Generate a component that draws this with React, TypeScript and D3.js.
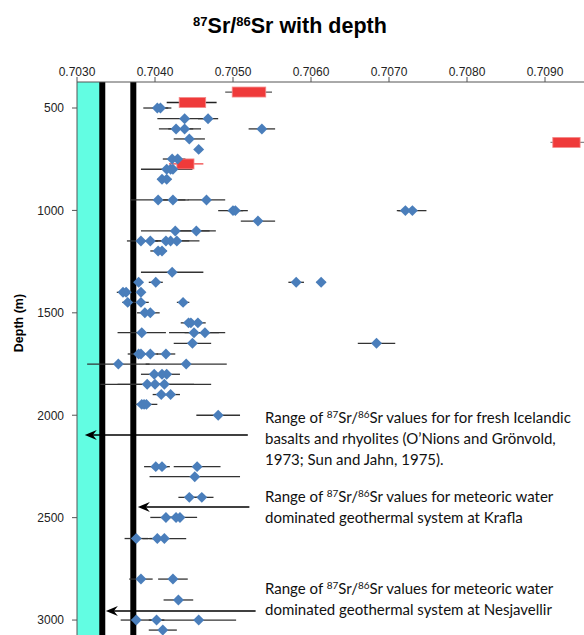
import React from 'react';
import * as d3 from 'd3';

// [depth (m), 87Sr/86Sr, half error]
const samples: [number, number, number][] = [
  [500, 0.70403, 0.00018], [500, 0.70407, 0.0001],
  [552, 0.70438, 0.00035], [552, 0.70468, 0.00013],
  [602, 0.70427, 0.00022], [602, 0.70438, 0.00021], [602, 0.70537, 0.00017],
  [651, 0.70444, 0.0002],
  [702, 0.70456, 0.00004],
  [749, 0.70422, 0.00012], [749, 0.70429, 0.0001],
  [799, 0.70415, 0.00033], [799, 0.7042, 0.0001], [799, 0.70423, 0.0001],
  [848, 0.70409, 0.00006], [848, 0.70415, 0.00006],
  [949, 0.70404, 0.00035], [949, 0.70423, 0.0002], [949, 0.70466, 0.00024],
  [1001, 0.705, 0.00019], [1001, 0.70503, 0.0001], [1001, 0.70721, 0.00011], [1001, 0.7073, 0.00018],
  [1052, 0.70532, 0.00022],
  [1100, 0.70426, 0.00044], [1100, 0.70453, 0.00025],
  [1149, 0.70382, 0.00018], [1149, 0.70394, 0.0001], [1149, 0.70414, 0.0003], [1149, 0.7042, 0.0001], [1149, 0.70428, 0.00029],
  [1198, 0.70404, 0.0001], [1198, 0.70409, 0.00006],
  [1302, 0.70422, 0.0004],
  [1351, 0.70379, 0.00005], [1351, 0.70401, 0.00009], [1351, 0.70581, 0.0001], [1351, 0.70613, 0.00006],
  [1400, 0.70359, 0.00008], [1400, 0.70363, 0.00007], [1400, 0.70382, 0.00004],
  [1449, 0.70365, 0.00007], [1449, 0.70382, 0.0001], [1449, 0.70436, 0.00008],
  [1500, 0.70387, 0.0001], [1500, 0.70394, 0.00012],
  [1549, 0.70443, 0.0001], [1549, 0.70446, 0.00008], [1549, 0.70455, 0.0001],
  [1597, 0.70383, 0.00031], [1597, 0.7045, 0.00032], [1597, 0.70464, 0.00026],
  [1649, 0.70448, 0.00024], [1649, 0.70684, 0.00024],
  [1701, 0.70379, 0.00014], [1701, 0.70382, 0.00008], [1701, 0.70394, 0.0001], [1701, 0.70414, 0.00012],
  [1750, 0.70353, 0.0004], [1750, 0.7044, 0.00052],
  [1800, 0.70399, 0.00017], [1800, 0.70409, 0.0001], [1800, 0.70415, 0.00017],
  [1849, 0.7039, 0.0006], [1849, 0.704, 0.0001], [1849, 0.70412, 0.0006],
  [1899, 0.70408, 0.00011], [1899, 0.7042, 0.00012],
  [1947, 0.70383, 0.00006], [1947, 0.70386, 0.00008], [1947, 0.70389, 0.00014],
  [2000, 0.70481, 0.00028],
  [2251, 0.70401, 0.00015], [2251, 0.70409, 0.0001], [2251, 0.70454, 0.0003],
  [2300, 0.70451, 0.00058],
  [2401, 0.70444, 0.00014], [2401, 0.7046, 0.00015],
  [2499, 0.70414, 0.0002], [2499, 0.70427, 0.0001], [2499, 0.70432, 0.00022],
  [2602, 0.70376, 0.00015], [2602, 0.70403, 0.0001], [2602, 0.70412, 0.00028],
  [2800, 0.70382, 0.00015], [2800, 0.70423, 0.00019],
  [2902, 0.7043, 0.00019],
  [3000, 0.70376, 0.0002], [3000, 0.70402, 0.0001], [3000, 0.70456, 0.00048],
  [3049, 0.7041, 0.00018],
];

// red range bars: [depth, lo, hi, whiskerLo, whiskerHi]
const ranges: [number, number, number, number, number][] = [
  [422, 0.70499, 0.70542, 0.7049, 0.7055],
  [473, 0.70431, 0.70465, 0.70415, 0.70479],
  [668, 0.7091, 0.70945, 0.70907, 0.7096],
  [773, 0.70428, 0.7045, 0.70418, 0.70462],
];
const rangeWhiskerColors = ['#555', '#222', '#888', '#f04040'];

const xTicks = [0.703, 0.704, 0.705, 0.706, 0.707, 0.708, 0.709];
const yTicks = [500, 1000, 1500, 2000, 2500, 3000];

// reference ranges
const basaltBand = [0.703, 0.70331];
const refLines = [0.703324, 0.703722];

// arrows: [depth, tip value, tail value]
const arrows: [number, number, number][] = [
  [2097, 0.7031, 0.70519],
  [2448, 0.70378, 0.70521],
  [2956, 0.70337, 0.70529],
];

const notes = [
  { y: 423, lines: [['Range of ', '87', 'Sr/', '86', 'Sr values for for fresh Icelandic'], ['basalts and rhyolites (O\u2019Nions and Gr\u00f6nvold,'], ['1973; Sun and Jahn, 1975).']] },
  { y: 501.5, lines: [['Range of ', '87', 'Sr/', '86', 'Sr values for meteoric water'], ['dominated geothermal system at Krafla']] },
  { y: 594, lines: [['Range of ', '87', 'Sr/', '86', 'Sr values for meteoric water'], ['dominated geothermal system at Nesjavellir']] },
];

const W = 584;
const H = 635;

export default function App() {
  const x = d3.scaleLinear().domain([0.703, 0.7095]).range([77, 584]);
  const y = d3.scaleLinear().domain([373, 3073]).range([82, 635]);
  const diamond = d3.symbol(d3.symbolSquare, 60)() as string;
  const noteFont = 'Lato, "Open Sans", sans-serif';

  return (
    <div style={{ position: 'absolute', left: 0, top: 0 }}>
      <svg width={W} height={H} style={{ display: 'block', background: '#fff' }}>
        <text x={290} y={33} textAnchor="middle" fontFamily="'Liberation Sans', Arial, sans-serif" fontWeight="bold" fontSize={21.5}>
          <tspan fontSize={13} dy={-7}>87</tspan>
          <tspan dy={7}>Sr/</tspan>
          <tspan fontSize={13} dy={-7}>86</tspan>
          <tspan dy={7}>Sr with depth</tspan>
        </text>

        {/* band and reference lines */}
        <rect x={x(basaltBand[0])} y={y(373)} width={x(basaltBand[1]) - x(basaltBand[0])} height={H - y(373)} fill="#62fde2" />
        {refLines.map((v, i) => (
          <line key={i} x1={x(v)} x2={x(v)} y1={y(373)} y2={H} stroke="#000" strokeWidth={6} />
        ))}

        {/* axes */}
        <g fontFamily="'Liberation Sans', Arial, sans-serif" fontSize={12} fill="#222">
          <line x1={77} x2={W} y1={82} y2={82} stroke="#555" />
          {xTicks.map(t => (
            <g key={t}>
              <line x1={x(t)} x2={x(t)} y1={77} y2={82} stroke="#555" />
              <text x={x(t)} y={75.5} textAnchor="middle">{d3.format('.4f')(t)}</text>
            </g>
          ))}
          <line x1={77} x2={77} y1={82} y2={H} stroke="#555" />
          {yTicks.map(t => (
            <g key={t}>
              <line x1={72} x2={77} y1={y(t)} y2={y(t)} stroke="#555" />
              <text x={64} y={y(t)} dy="0.36em" textAnchor="end">{t}</text>
            </g>
          ))}
          <text transform={`translate(23,${y(1550)}) rotate(-90)`} textAnchor="middle" fontWeight="bold" fontSize={12.5} fill="#000">Depth (m)</text>
        </g>

        {/* error bars */}
        {samples.map(([d, v, e], i) => (
          <line key={i} x1={x(v - e)} x2={x(v + e)} y1={y(d)} y2={y(d)} stroke="#333" strokeWidth={1.3} />
        ))}
        {ranges.map(([d, , , wl, wh], i) => (
          <line key={i} x1={x(wl)} x2={x(wh)} y1={y(d)} y2={y(d)} stroke={rangeWhiskerColors[i]} strokeWidth={1.3} />
        ))}

        {/* red ranges */}
        {ranges.map(([d, lo, hi], i) => (
          <rect key={i} x={x(lo)} y={y(d) - 5} width={x(hi) - x(lo)} height={10} fill="#ef3a3a" stroke="#f48a8a" strokeWidth={0.8} />
        ))}

        {/* diamonds */}
        {samples.map(([d, v], i) => (
          <path key={i} d={diamond} transform={`translate(${x(v)},${y(d)}) rotate(45)`} fill="#4a7ebb" />
        ))}

        {/* arrows */}
        {arrows.map(([d, tip, tail], i) => {
          const ty = y(d);
          const tx = x(tip);
          return (
            <g key={i}>
              <line x1={tx + 6} x2={x(tail)} y1={ty} y2={ty} stroke="#000" strokeWidth={1.5} />
              <path d={`M${tx},${ty} L${tx + 12},${ty - 5} L${tx + 8},${ty} L${tx + 12},${ty + 5} Z`} fill="#000" />
            </g>
          );
        })}

        {/* notes */}
        <g fontFamily={noteFont} fontSize={15} fill="#111">
          {notes.map((n, i) => (
            <text key={i} x={265} y={n.y}>
              {n.lines.map((parts, j) => (
                <tspan key={j} x={265} y={n.y + j * 21}>
                  {parts.map((p, k) => (k === 1 || k === 3)
                    ? <tspan key={k} fontSize={10} baselineShift="5">{p}</tspan>
                    : <tspan key={k}>{p}</tspan>)}
                </tspan>
              ))}
            </text>
          ))}
        </g>
      </svg>
    </div>
  );
}
